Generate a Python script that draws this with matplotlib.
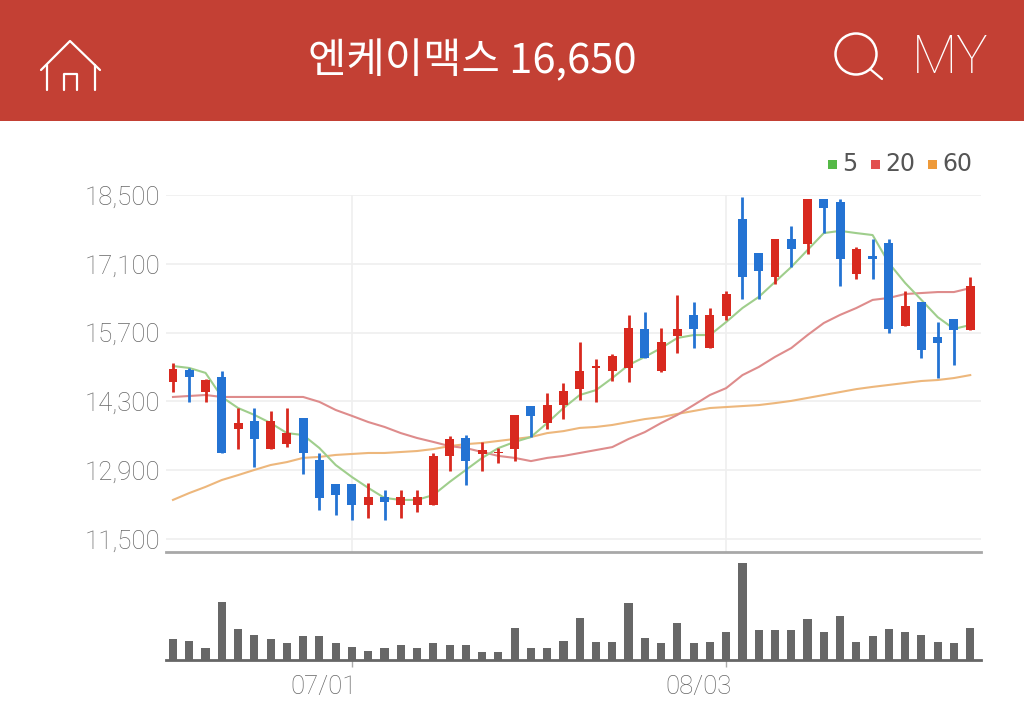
#!/usr/bin/env python3
"""Stock chart screen: candles with moving averages, volume bars below."""

import numpy as np
import matplotlib
matplotlib.use("Agg")
import matplotlib.pyplot as plt
from matplotlib.patches import Circle, Rectangle
from matplotlib.transforms import ScaledTranslation

plt.rcParams['font.family'] = ['Noto Sans CJK KR', 'DejaVu Sans']

W, H = 1024, 701

# -----------------------------------------------------------------------------
# Data
# -----------------------------------------------------------------------------
title = "엔케이맥스 16,650"
y_ticks = [11500, 12900, 14300, 15700, 17100, 18500]
y_labels = ["11,500", "12,900", "14,300", "15,700", "17,100", "18,500"]
date_idx = [11, 34]
date_labels = ["07/01", "08/03"]

# True = red (close above open), False = blue
rising = [1, 0, 1, 0, 1, 0, 1, 1, 0, 0,
          0, 0, 1, 0, 1, 1, 1, 1, 0, 1,
          1, 1, 0, 1, 1, 1, 1, 1, 1, 0,
          1, 1, 0, 1, 1, 0, 0, 1, 0, 1,
          0, 0, 1, 0, 0, 1, 0, 0, 0, 1]
high = [15080, 14980, 14750, 14925, 14160, 14160, 14110, 14160, 13955, 13245,
        12610, 12610, 12645, 12495, 12495, 12495, 13245, 13600, 13615, 13465,
        13360, 14025, 14210, 14465, 14670, 15515, 15155, 15265, 16060, 16115,
        15800, 16465, 16330, 16205, 16555, 18455, 17315, 17605, 17870, 18420,
        18420, 18420, 17450, 17605, 17600, 16555, 16315, 15910, 15975, 16825]
body_top = [14950, 14940, 14735, 14800, 13870, 13900, 13900, 13660, 13955, 13105,
            12610, 12610, 12350, 12360, 12350, 12350, 13190, 13535, 13555, 13310,
            13280, 14025, 14210, 14225, 14510, 14920, 15020, 15225, 15790, 15765,
            15500, 15765, 16060, 16060, 16485, 18010, 17315, 17605, 17605, 18420,
            18420, 18350, 17400, 17260, 17515, 16245, 16315, 15615, 15975, 16650]
body_bottom = [14700, 14790, 14500, 13245, 13730, 13535, 13325, 13430, 13245, 12340,
               12395, 12190, 12190, 12245, 12190, 12190, 12190, 13190, 13085, 13230,
               13250, 13330, 14005, 13870, 14225, 14550, 14985, 14925, 14985, 15190,
               14920, 15635, 15775, 15390, 16040, 16835, 16955, 16835, 17395, 17505,
               18230, 17190, 16885, 17190, 15765, 15840, 15345, 15495, 15750, 15750]
low = [14500, 14290, 14280, 13245, 13325, 12970, 13325, 13380, 12820, 12090,
       11990, 11885, 11920, 11885, 11920, 12045, 12190, 12885, 12600, 12885,
       13045, 13085, 13580, 13730, 13935, 14330, 14280, 14720, 14700, 15190,
       14905, 15280, 15390, 15390, 15955, 16390, 16390, 16690, 17030, 17300,
       17720, 16650, 16785, 16790, 15685, 15840, 15190, 14770, 15040, 15750]

ma5 = [15020, 14980, 14880, 14390, 14165, 14025, 13860, 13655, 13615, 13350,
       13005, 12760, 12540, 12335, 12295, 12295, 12395, 12660, 12905, 13150,
       13350, 13475, 13575, 13860, 14165, 14430, 14530, 14775, 15040, 15205,
       15385, 15590, 15650, 15650, 15915, 16200, 16425, 16730, 17035, 17380,
       17725, 17770, 17725, 17685, 17115, 16710, 16365, 16015, 15775, 15855]
ma20 = [14390, 14410, 14430, 14390, 14390, 14390, 14390, 14390, 14390, 14290,
        14125, 14005, 13880, 13780, 13655, 13555, 13475, 13390, 13350, 13270,
        13190, 13150, 13085, 13150, 13190, 13250, 13310, 13370, 13535, 13675,
        13860, 14025, 14225, 14430, 14570, 14835, 15000, 15205, 15385, 15650,
        15895, 16060, 16200, 16365, 16405, 16485, 16505, 16525, 16525, 16605]
ma60 = [12295, 12435, 12560, 12700, 12800, 12905, 13005, 13065, 13150, 13170,
        13210, 13230, 13250, 13250, 13270, 13290, 13330, 13390, 13430, 13455,
        13495, 13535, 13575, 13655, 13695, 13760, 13780, 13820, 13880, 13940,
        13980, 14045, 14105, 14165, 14185, 14205, 14225, 14265, 14310, 14370,
        14430, 14490, 14550, 14595, 14635, 14675, 14715, 14735, 14775, 14835]

# volume, thousands of shares (estimated, no scale shown)
volume = [21, 19, 12, 58, 31, 25, 21, 17, 24, 24,
          17, 13, 9, 12, 15, 12, 17, 15, 15, 8,
          8, 32, 12, 12, 19, 42, 18, 18, 57, 22,
          17, 37, 17, 18, 28, 97, 30, 30, 30, 41,
          28, 44, 18, 24, 31, 28, 25, 18, 17, 32]

# -----------------------------------------------------------------------------
# Helpers
# -----------------------------------------------------------------------------
def px_axes(fig, left, top, right, bottom):
    """Axes placed by pixel box, y measured from the top of the image."""
    return fig.add_axes([left / W, 1 - bottom / H, (right - left) / W, (bottom - top) / H])

def draw_header(ov):
    ov.add_patch(Rectangle((0, 0), W, 121, color='#C34034', lw=0))
    ov.text(472, 61, title, color='white', fontsize=30, ha='center', va='center', fontweight='medium')

    # home icon
    ic = dict(color='white', lw=1.6, solid_capstyle='round')
    ov.plot([41, 70, 100], [70, 41, 70], **ic)
    ov.plot([47, 47], [65, 90], **ic)
    ov.plot([95, 95], [65, 90], **ic)
    ov.plot([64, 64, 77, 77], [90, 74, 74, 90], **ic)

    # search icon
    ov.add_patch(Circle((856, 54), 20.5, fill=False, ec='white', lw=1.8))
    ov.plot([870, 882], [69, 79], **ic)
    ov.text(950.5, 58, "MY", color='white', fontsize=38, ha='center', va='center',
            family='Roboto', fontweight='light')

def draw_legend(ov):
    items = [(828, "5", '#55B947'), (871, "20", '#E25050'), (928, "60", '#EE9A3A')]
    for x, label, color in items:
        ov.add_patch(Rectangle((x, 160), 9, 9, color=color, lw=0))
        ov.text(x + 14, 164, label, color='#555555', fontsize=17, ha='left', va='center',
                family='DejaVu Sans')

def main():
    fig = plt.figure(figsize=(W / 100, H / 100), dpi=100, facecolor='white')

    # x: candle i sits at 173 + 16.27 * i px, so the axes span is fixed from that
    x = np.arange(len(volume))
    xlim = ((166 - 173) / 16.27, (981 - 173) / 16.27)

    # Price panel
    ax = px_axes(fig, 166, 195, 981, 552)
    ax.set_xlim(*xlim)
    ax.set_ylim(11235, 18500)
    ax.set_yticks(y_ticks, y_labels)
    ax.set_xticks(date_idx, [])
    ax.grid(True, color='#EFEFEF', lw=1.2)
    ax.set_axisbelow(True)
    ax.tick_params(axis='y', length=0, pad=4, labelsize=18.5, labelcolor='#666666')
    ax.tick_params(axis='x', length=0)
    for lbl in ax.get_yticklabels():
        lbl.set_family('Roboto')
        lbl.set_fontweight('light')
    for side in ['top', 'left', 'right']:
        ax.spines[side].set_visible(False)
    ax.spines['bottom'].set_color('#A8A8A8')
    ax.spines['bottom'].set_linewidth(2)

    ax.plot(x, ma60, color='#EDB77C', lw=1.5, zorder=2)
    ax.plot(x, ma20, color='#DE8C8C', lw=1.5, zorder=2)
    ax.plot(x, ma5, color='#9FCE8C', lw=1.5, zorder=2)

    colors = ['#D8291F' if r else '#2473D3' for r in rising]
    heights = np.array(body_top) - np.array(body_bottom)
    ax.vlines(x, low, high, colors=colors, lw=2, zorder=3)
    ax.bar(x, heights, width=0.55, bottom=body_bottom, color=colors, zorder=4)

    # Volume panel
    ax_vol = px_axes(fig, 166, 560, 981, 660)
    ax_vol.set_xlim(*xlim)
    ax_vol.set_ylim(0, 100)
    ax_vol.bar(x, volume, width=0.5, color='#676767')
    ax_vol.set_yticks([])
    ax_vol.set_xticks(date_idx, date_labels)
    ax_vol.tick_params(axis='x', length=5, width=1, color='#AAAAAA', pad=6,
                       labelsize=18.5, labelcolor='#666666')
    # date labels end just right of their tick instead of being centred on it
    shift = ScaledTranslation(5 / 100, 0, fig.dpi_scale_trans)
    for lbl in ax_vol.get_xticklabels():
        lbl.set_family('Roboto')
        lbl.set_fontweight('light')
        lbl.set_ha('right')
        lbl.set_transform(lbl.get_transform() + shift)
    for side in ['top', 'left', 'right']:
        ax_vol.spines[side].set_visible(False)
    ax_vol.spines['bottom'].set_color('#666666')
    ax_vol.spines['bottom'].set_linewidth(2)
    ax_vol.patch.set_alpha(0)

    # Overlay in image pixels for the app header and the legend
    ov = fig.add_axes([0, 0, 1, 1], zorder=5)
    ov.set_xlim(0, W)
    ov.set_ylim(H, 0)
    ov.axis('off')
    draw_header(ov)
    draw_legend(ov)

    fig.savefig("out.png", dpi=100)
    plt.close(fig)

if __name__ == "__main__":
    main()
